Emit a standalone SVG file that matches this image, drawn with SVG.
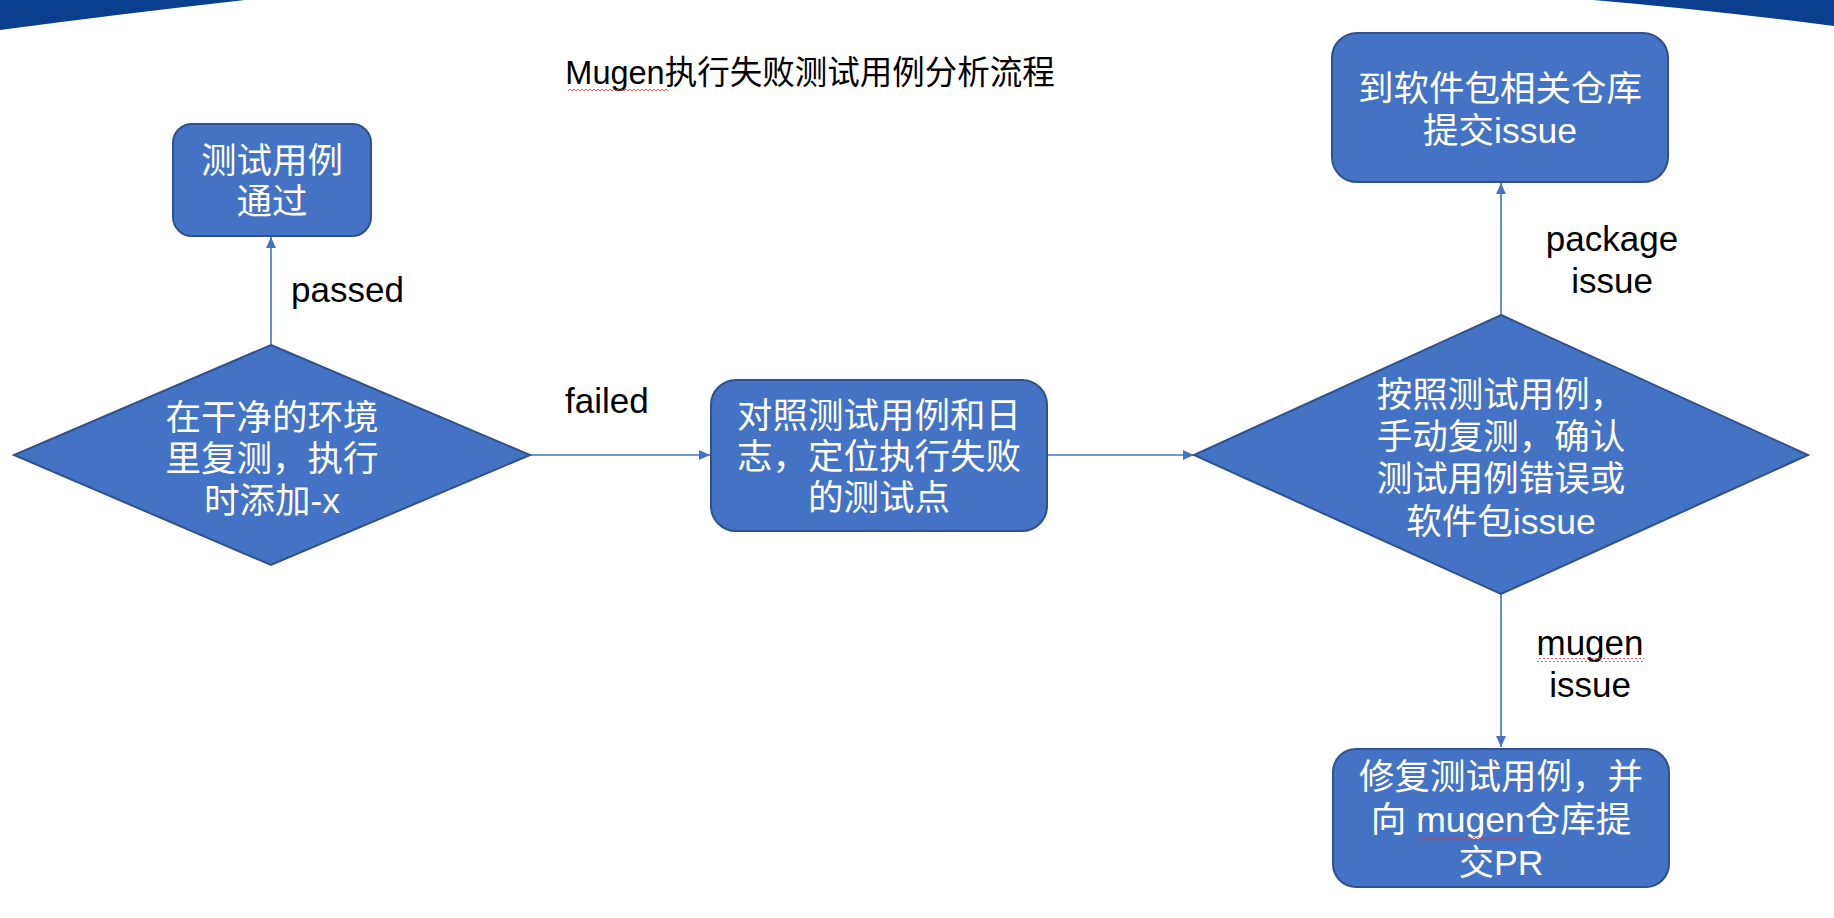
<svg xmlns="http://www.w3.org/2000/svg" width="1834" height="918" viewBox="0 0 1834 918">
  <style>
    .node { fill: #4472C4; stroke: #2F528F; stroke-width: 2; }
    .ntext { font-family: "Liberation Sans", "Noto Sans CJK SC", sans-serif; font-size: 35.5px; fill: #FFFFFF; text-anchor: middle; }
    .label { font-family: "Liberation Sans", "Noto Sans CJK SC", sans-serif; font-size: 35px; fill: #000000; }
    .title { font-family: "Liberation Sans", "Noto Sans CJK SC", sans-serif; font-size: 32.5px; fill: #000000; }
    .conn { fill: none; stroke: #4472C4; stroke-width: 1.6; marker-end: url(#arrow); }
    .banner { fill: #0A3F8F; }
  </style>
  <defs>
    <marker id="arrow" viewBox="0 0 10 10" refX="10" refY="5" markerWidth="11" markerHeight="11" markerUnits="userSpaceOnUse" orient="auto">
      <path d="M0,0.5 L10,5 L0,9.5 Z" fill="#4472C4"/>
    </marker>
    <pattern id="squig" width="4" height="4" patternUnits="userSpaceOnUse">
      <path d="M0,3 L2,1 L4,3" fill="none" stroke="#E03030" stroke-width="0.8"/>
    </pattern>
  </defs>

  <rect x="0" y="0" width="1834" height="918" fill="#FFFFFF"/>

  <g id="banner">
    <path class="banner" d="M0,0 L245,0 Q120,14 0,30 Z"/>
    <path class="banner" d="M1593,0 L1834,0 L1834,26 Q1710,10 1593,0 Z"/>
  </g>

  <g id="title">
    <text class="title" x="810" y="84" text-anchor="middle">Mugen执行失败测试用例分析流程</text>
    <rect x="568" y="88" width="100" height="4" fill="url(#squig)"/>
  </g>

  <g id="connectors">
    <line class="conn" x1="271" y1="345" x2="271" y2="237"/>
    <line class="conn" x1="530" y1="455" x2="710" y2="455"/>
    <line class="conn" x1="1047" y1="455" x2="1194" y2="455"/>
    <line class="conn" x1="1501" y1="315" x2="1501" y2="183"/>
    <line class="conn" x1="1501" y1="594" x2="1501" y2="747"/>
    <text class="label" x="291" y="302">passed</text>
    <text class="label" x="565" y="413">failed</text>
    <text class="label" x="1612" y="251" text-anchor="middle">package</text>
    <text class="label" x="1612" y="293" text-anchor="middle">issue</text>
    <text class="label" x="1590" y="655" text-anchor="middle">mugen</text>
    <rect x="1537" y="658" width="107" height="4" fill="url(#squig)"/>
    <text class="label" x="1590" y="697" text-anchor="middle">issue</text>
  </g>

  <g id="node-passed">
    <rect class="node" x="173" y="124" width="198" height="112" rx="19" ry="19"/>
    <text class="ntext" x="272" y="173">测试用例</text>
    <text class="ntext" x="272" y="214">通过</text>
  </g>

  <g id="node-retest">
    <polygon class="node" points="271,345 530,455 271,565 14,455"/>
    <text class="ntext" x="272" y="430">在干净的环境</text>
    <text class="ntext" x="272" y="471">里复测，执行</text>
    <text class="ntext" x="272" y="513">时添加-x</text>
  </g>

  <g id="node-locate">
    <rect class="node" x="711" y="380" width="336" height="151" rx="25" ry="25"/>
    <text class="ntext" x="879" y="428">对照测试用例和日</text>
    <text class="ntext" x="879" y="469">志，定位执行失败</text>
    <text class="ntext" x="879" y="510">的测试点</text>
  </g>

  <g id="node-manual">
    <polygon class="node" points="1501,315 1808,455 1501,594 1194,455"/>
    <text class="ntext" x="1501" y="407">按照测试用例，</text>
    <text class="ntext" x="1501" y="449">手动复测，确认</text>
    <text class="ntext" x="1501" y="491">测试用例错误或</text>
    <text class="ntext" x="1501" y="534">软件包issue</text>
  </g>

  <g id="node-package">
    <rect class="node" x="1332" y="33" width="336" height="149" rx="25" ry="25"/>
    <text class="ntext" x="1500" y="101">到软件包相关仓库</text>
    <text class="ntext" x="1500" y="143">提交issue</text>
  </g>

  <g id="node-fix">
    <rect class="node" x="1333" y="749" width="336" height="138" rx="23" ry="23"/>
    <text class="ntext" x="1501" y="789">修复测试用例，并</text>
    <text class="ntext" x="1501" y="832">向 mugen仓库提</text>
    <rect x="1417" y="836" width="107" height="4" fill="url(#squig)"/>
    <text class="ntext" x="1501" y="875">交PR</text>
  </g>
</svg>
